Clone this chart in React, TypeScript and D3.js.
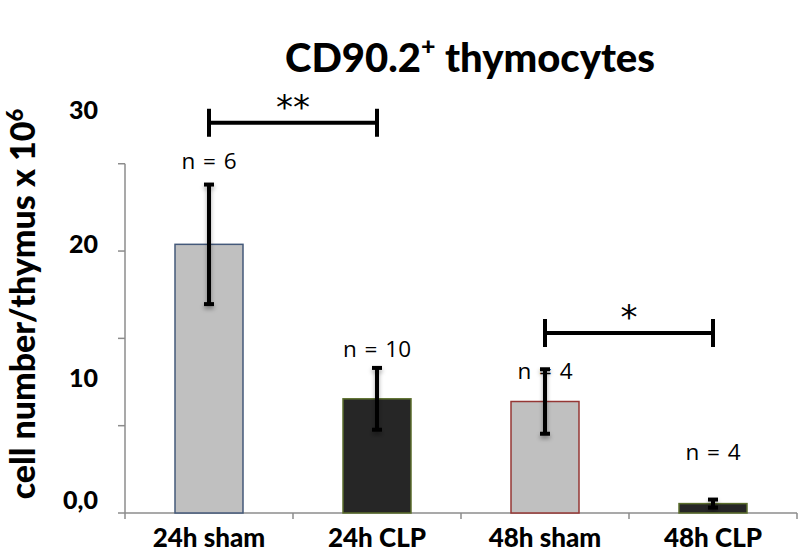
import React from "react";
import * as d3 from "d3";

const categories = ["24h sham", "24h CLP", "48h sham", "48h CLP"];
const means = [20, 8.5, 8.3, 0.7];
const errors = [4.45, 2.3, 2.4, 0.3];
const nLabels = ["n = 6", "n = 10", "n = 4", "n = 4"];
const fills = ["#c0c0c0", "#262626", "#c0c0c0", "#262626"];
const strokes = ["#44597a", "#5b6e2c", "#953735", "#5b6e2c"];
const yTickLabels = [0, 10, 20, 30];
const yTickLabelText = ["0,0", "10", "20", "30"];
const yTickMarks = [0, 6.5, 13, 19.5, 26];
const comparisons = [
  { from: 0, to: 1, level: 29.05, label: "**" },
  { from: 2, to: 3, level: 13.4, label: "*" },
];
const title = "CD90.2";
const yTitle = "cell number/thymus x 10";

const W = 800;
const H = 553;
const FONT = "Lato, 'Open Sans', sans-serif";

export default function App() {
  const x = d3.scaleBand<string>().domain(categories).range([125, 797]).paddingInner(0).paddingOuter(0);
  const y = d3.scaleLinear().domain([0, 30]).range([513, 110]);
  const bw = 68;
  const cx = (i: number) => (x(categories[i]) as number) + x.bandwidth() / 2;
  const axisColor = "#8c8c8c";

  const nLabelY = [169, 357, 379, 460];

  return (
    <svg width={W} height={H} style={{ position: "absolute", left: 0, top: 0, background: "#fff" }}>
      <defs>
        <filter id="sh" x="-50%" y="-50%" width="200%" height="200%">
          <feDropShadow dx="0" dy="3" stdDeviation="2" floodColor="#000" floodOpacity="0.35" />
        </filter>
      </defs>
      <rect width={W} height={H} fill="#fff" />
      {/* title */}
      <text x={470} y={72} textAnchor="middle" fontFamily={FONT} fontWeight={900} fontSize={40} fill="#000">
        {title}
        <tspan fontSize={25} dy={-17}>+</tspan>
        <tspan dy={17}> thymocytes</tspan>
      </text>
      {/* y axis title */}
      <text
        transform={`translate(35, 304) rotate(-90)`}
        textAnchor="middle"
        fontFamily={FONT}
        fontWeight={900}
        fontSize={34}
        fill="#000"
      >
        {yTitle}
        <tspan fontSize={22} dy={-12}>6</tspan>
      </text>
      {/* y axis */}
      <line x1={125} x2={125} y1={y(yTickMarks[yTickMarks.length - 1])} y2={y(0)} stroke={axisColor} strokeWidth={1.5} />
      {yTickMarks.map((t, i) => (
        <line key={i} x1={118} x2={125} y1={y(t)} y2={y(t)} stroke={axisColor} strokeWidth={1.5} />
      ))}
      {yTickLabels.map((v, i) => (
        <text
          key={i}
          x={98}
          y={y(v) + (v === 0 ? -13 : 0)}
          dy="0.35em"
          textAnchor="end"
          fontFamily={FONT}
          fontWeight={900}
          fontSize={25}
          fill="#000"
        >
          {yTickLabelText[i]}
        </text>
      ))}
      {/* x axis */}
      <line x1={125} x2={797} y1={y(0)} y2={y(0)} stroke={axisColor} strokeWidth={1.5} />
      {categories.map((c, i) => (
        <line key={"t" + i} x1={(x(c) as number) + x.bandwidth()} x2={(x(c) as number) + x.bandwidth()} y1={y(0)} y2={y(0) + 6} stroke={axisColor} strokeWidth={1.5} />
      ))}
      <line x1={125} x2={125} y1={y(0)} y2={y(0) + 6} stroke={axisColor} strokeWidth={1.5} />
      {categories.map((c, i) => (
        <text key={"c" + i} x={cx(i)} y={547} textAnchor="middle" fontFamily={FONT} fontWeight={900} fontSize={26} fill="#000">
          {c}
        </text>
      ))}
      {/* bars */}
      {categories.map((c, i) => (
        <rect
          key={"b" + i}
          x={cx(i) - bw / 2}
          y={y(means[i])}
          width={bw}
          height={y(0) - y(means[i])}
          fill={fills[i]}
          stroke={strokes[i]}
          strokeWidth={1.5}
        />
      ))}
      {/* error bars */}
      {categories.map((c, i) => {
        const top = y(means[i] + errors[i]);
        const bot = y(means[i] - errors[i]);
        return (
          <g key={"e" + i} stroke="#000" strokeWidth={4} filter="url(#sh)">
            <line x1={cx(i)} x2={cx(i)} y1={top} y2={bot} />
            <line x1={cx(i) - 5} x2={cx(i) + 5} y1={top} y2={top} />
            <line x1={cx(i) - 5} x2={cx(i) + 5} y1={bot} y2={bot} />
          </g>
        );
      })}
      {/* n labels */}
      {categories.map((c, i) => (
        <text key={"n" + i} x={cx(i)} y={nLabelY[i]} textAnchor="middle" fontFamily="'Open Sans', sans-serif" fontSize={22.5} wordSpacing={2} fill="#000">
          {nLabels[i]}
        </text>
      ))}
      {/* significance */}
      {comparisons.map((s, i) => {
        const x1 = cx(s.from);
        const x2 = cx(s.to);
        const yy = y(s.level);
        return (
          <g key={"s" + i}>
            <line x1={x1} x2={x2} y1={yy} y2={yy} stroke="#000" strokeWidth={4} />
            <line x1={x1} x2={x1} y1={yy - 14} y2={yy + 14} stroke="#000" strokeWidth={4} />
            <line x1={x2} x2={x2} y1={yy - 14} y2={yy + 14} stroke="#000" strokeWidth={4} />
            <text x={(x1 + x2) / 2} y={yy - 4} textAnchor="middle" fontFamily="'DejaVu Sans', sans-serif" fontSize={34} fill="#000">
              {s.label}
            </text>
          </g>
        );
      })}
    </svg>
  );
}
